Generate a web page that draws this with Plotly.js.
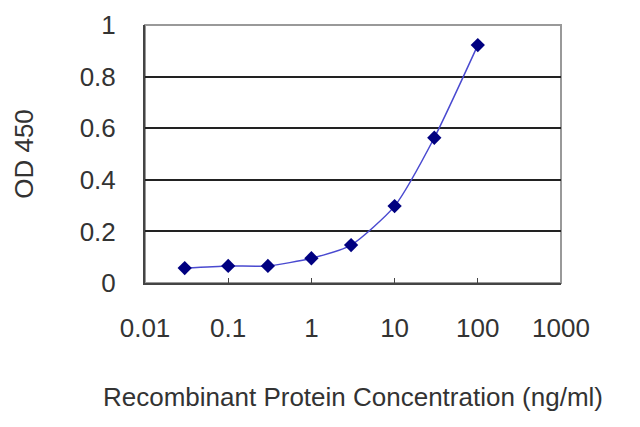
<!DOCTYPE html>
<html>
<head>
<meta charset="utf-8">
<script src="https://cdn.plot.ly/plotly-3.0.1.min.js"></script>
<style>html,body{margin:0;padding:0;background:#fff;}#chart{width:640px;height:427px;}</style>
</head>
<body>
<div id="chart"></div>
<script>
const concentrations = [0.03, 0.1, 0.3, 1, 3, 10, 30, 100];
const od450 = [0.058, 0.066, 0.066, 0.096, 0.147, 0.298, 0.563, 0.922];
const xTickVals = [0.01, 0.1, 1, 10, 100, 1000];
const xTickText = ["0.01", "0.1", "1", "10", "100", "1000"];
const yTickVals = [0, 0.2, 0.4, 0.6, 0.8, 1];
const yTickText = ["0", "0.2", "0.4", "0.6", "0.8", "1"];

const font = {family: "Liberation Sans, Arial, sans-serif", size: 26, color: "#333"};

Plotly.newPlot("chart", [{
  x: concentrations,
  y: od450,
  type: "scatter",
  mode: "lines+markers",
  line: {color: "#4a4ad0", width: 1.5, shape: "spline", smoothing: 0.6},
  marker: {symbol: "diamond", size: 11, color: "#000080"},
  showlegend: false
}], {
  width: 640, height: 427,
  margin: {l: 145, r: 79, t: 25, b: 144},
  paper_bgcolor: "#fff", plot_bgcolor: "#fff",
  font: font,
  xaxis: {
    type: "log", range: [-2, 3],
    tickvals: xTickVals, ticktext: xTickText,
    showgrid: false, zeroline: false,
    showline: true, linecolor: "#444", linewidth: 2,
    ticks: "inside", ticklen: 5, tickcolor: "#444",
    ticklabelstandoff: 21,
    tickfont: font,
    title: {text: "Recombinant Protein Concentration (ng/ml)", font: font, standoff: 46}
  },
  yaxis: {
    range: [0, 1],
    tickvals: yTickVals, ticktext: yTickText,
    showgrid: true, gridcolor: "#222", gridwidth: 2,
    zeroline: false,
    showline: true, linecolor: "#444", linewidth: 2,
    ticks: "", ticklabelstandoff: 22,
    tickfont: font,
    title: {text: "OD 450", font: font, standoff: 39}
  },
  shapes: [{
    type: "rect", xref: "paper", yref: "paper", x0: 0, x1: 1, y0: 0, y1: 1,
    line: {color: "#999", width: 2}, layer: "below"
  }]
}, {displayModeBar: false, staticPlot: true});
</script>
</body>
</html>
